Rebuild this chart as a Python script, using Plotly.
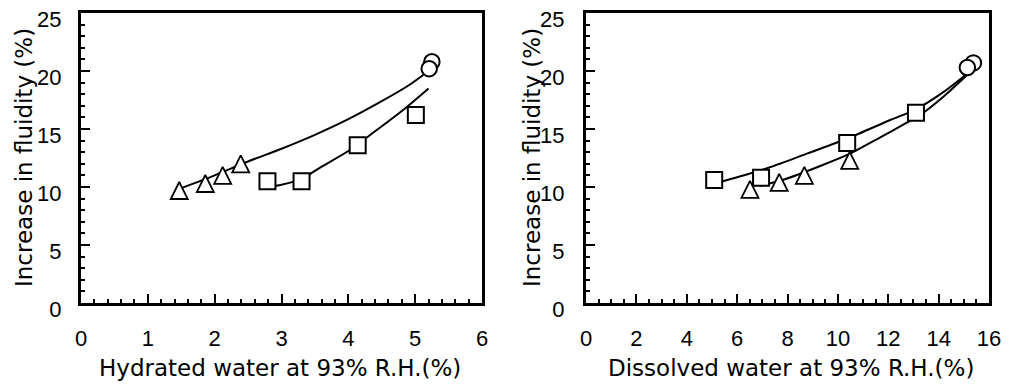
import plotly.graph_objects as go

# ---------------- data ----------------
# Left panel: hydrated water at 93% R.H. (%)
hyd_tri_x = [1.47, 1.86, 2.12, 2.39]
hyd_tri_y = [9.7, 10.3, 11.0, 12.0]
hyd_sq_x = [2.79, 3.30, 4.14, 5.01]
hyd_sq_y = [10.5, 10.5, 13.6, 16.2]
hyd_circ_x = [5.25, 5.21]
hyd_circ_y = [20.8, 20.2]
hyd_curve_a_x = [1.5, 2.0, 2.5, 3.0, 3.5, 4.0, 4.5, 4.9, 5.2]
hyd_curve_a_y = [9.9, 11.0, 12.2, 13.3, 14.5, 15.85, 17.4, 18.75, 20.0]
hyd_curve_b_x = [2.8, 3.0, 3.3, 3.6, 4.0, 4.4, 4.8, 5.2]
hyd_curve_b_y = [10.0, 10.2, 10.7, 11.75, 13.1, 14.8, 16.55, 18.5]

# Right panel: dissolved water at 93% R.H. (%)
dis_tri_x = [6.51, 7.67, 8.67, 10.47]
dis_tri_y = [9.8, 10.4, 11.0, 12.3]
dis_sq_x = [5.09, 6.95, 10.37, 13.10]
dis_sq_y = [10.6, 10.8, 13.8, 16.4]
dis_circ_x = [15.38, 15.14]
dis_circ_y = [20.7, 20.3]
dis_curve_a_x = [5.1, 6.1, 7.3, 8.8, 10.4, 12.1, 13.1, 14.2, 15.2]
dis_curve_a_y = [10.3, 10.9, 11.7, 12.9, 14.2, 15.8, 16.7, 18.2, 19.9]
dis_curve_b_x = [6.9, 7.8, 9.4, 10.5, 11.7, 12.7, 13.2, 14.2, 15.2]
dis_curve_b_y = [10.1, 10.6, 11.9, 12.9, 14.3, 15.5, 16.1, 17.8, 19.8]

x1_ticks = [0, 1, 2, 3, 4, 5, 6]
x2_ticks = [0, 2, 4, 6, 8, 10, 12, 14, 16]
y_ticks = [0, 5, 10, 15, 20, 25]

x1_title = "Hydrated water at 93% R.H.(%)"
x2_title = "Dissolved water at 93% R.H.(%)"
y_title = "Increase in fluidity (%)"

# ---------------- styles / layout ----------------
PAGE_W, PAGE_H = 1015, 384
OFF = 8                      # default page margin around the plot div
W, H = PAGE_W - OFF, PAGE_H - OFF

def px_x(p):                 # page pixel -> paper fraction
    return (p - OFF) / W

def px_y(p):
    return 1 - (p - OFF) / H

TICK_FONT = dict(family="Liberation Sans, Arial, sans-serif", size=22, color="black")
TITLE_FONT = dict(family="DejaVu Sans, sans-serif", size=23, color="black")
YTITLE_FONT = dict(family="DejaVu Sans, sans-serif", size=23, color="black")
LINE = dict(color="black", width=2)
TRI_SIZE = 17
TRI = dict(symbol="arrow-down", angle=180, standoff=TRI_SIZE / 2, size=TRI_SIZE,
           color="white", line=dict(color="black", width=1.8))
SQ = dict(symbol="square", size=16, color="white", line=dict(color="black", width=2))
CIRC = dict(symbol="circle", size=15.5, color="white", line=dict(color="black", width=2))

fig = go.Figure()

def add_panel(xa, ya, cax, cay, cbx, cby, tx, ty, sx, sy, ox, oy):
    for cx, cy in ((cax, cay), (cbx, cby)):
        fig.add_trace(go.Scatter(x=cx, y=cy, mode="lines", line=dict(shape="spline", smoothing=0.8, **LINE),
                                 xaxis=xa, yaxis=ya, hoverinfo="skip", showlegend=False))
    fig.add_trace(go.Scatter(x=tx, y=ty, mode="markers", marker=TRI, xaxis=xa, yaxis=ya,
                             showlegend=False, cliponaxis=False))
    fig.add_trace(go.Scatter(x=sx, y=sy, mode="markers", marker=SQ, xaxis=xa, yaxis=ya,
                             showlegend=False, cliponaxis=False))
    fig.add_trace(go.Scatter(x=ox, y=oy, mode="markers", marker=CIRC, xaxis=xa, yaxis=ya,
                             showlegend=False, cliponaxis=False))

add_panel("x", "y", hyd_curve_a_x, hyd_curve_a_y, hyd_curve_b_x, hyd_curve_b_y,
          hyd_tri_x, hyd_tri_y, hyd_sq_x, hyd_sq_y, hyd_circ_x, hyd_circ_y)
add_panel("x2", "y2", dis_curve_a_x, dis_curve_a_y, dis_curve_b_x, dis_curve_b_y,
          dis_tri_x, dis_tri_y, dis_sq_x, dis_sq_y, dis_circ_x, dis_circ_y)

common_axis = dict(showline=True, mirror=True, linecolor="black", linewidth=3,
                   showgrid=False, zeroline=False, ticks="inside", ticklen=9, tickwidth=2,
                   tickcolor="black", tickfont=TICK_FONT, automargin=False,
                   ticklabeloverflow="allow")

yd = [px_y(303), px_y(13)]
fig.update_layout(
    template="none",
    width=W, height=H, autosize=False,
    margin=dict(l=0, r=0, t=0, b=0, pad=0),
    paper_bgcolor="white", plot_bgcolor="white",
    xaxis=dict(domain=[px_x(81), px_x(482)], range=[0, 6], tickvals=x1_ticks, anchor="y",
               minor=dict(dtick=0.2, ticks="inside", ticklen=4, tickwidth=1.5, tickcolor="black"),
               ticklabelstandoff=14, **common_axis),
    yaxis=dict(domain=yd, range=[0, 25], tickvals=y_ticks, anchor="x",
               minor=dict(dtick=1, ticks="inside", ticklen=4, tickwidth=1.5, tickcolor="black"),
               ticklabelstandoff=12, ticklabelshift=6, **common_axis),
    xaxis2=dict(domain=[px_x(586), px_x(989)], range=[0, 16], tickvals=x2_ticks, anchor="y2",
                minor=dict(dtick=0.5, ticks="inside", ticklen=4, tickwidth=1.5, tickcolor="black"),
                ticklabelstandoff=14, **common_axis),
    yaxis2=dict(domain=yd, range=[0, 25], tickvals=y_ticks, anchor="x2",
                minor=dict(dtick=1, ticks="inside", ticklen=4, tickwidth=1.5, tickcolor="black"),
                ticklabelstandoff=14, ticklabelshift=6, **common_axis),
    annotations=[
        dict(text=x1_title, xref="paper", yref="paper", x=px_x(280), y=px_y(368),
             showarrow=False, font=TITLE_FONT, xanchor="center", yanchor="middle"),
        dict(text=x2_title, xref="paper", yref="paper", x=px_x(791), y=px_y(368),
             showarrow=False, font=TITLE_FONT, xanchor="center", yanchor="middle"),
        dict(text=y_title, xref="paper", yref="paper", x=px_x(24), y=px_y(158), textangle=-90,
             showarrow=False, font=YTITLE_FONT, xanchor="center", yanchor="middle"),
        dict(text=y_title, xref="paper", yref="paper", x=px_x(532), y=px_y(158), textangle=-90,
             showarrow=False, font=YTITLE_FONT, xanchor="center", yanchor="middle"),
    ],
)

fig.write_html("out.html")
